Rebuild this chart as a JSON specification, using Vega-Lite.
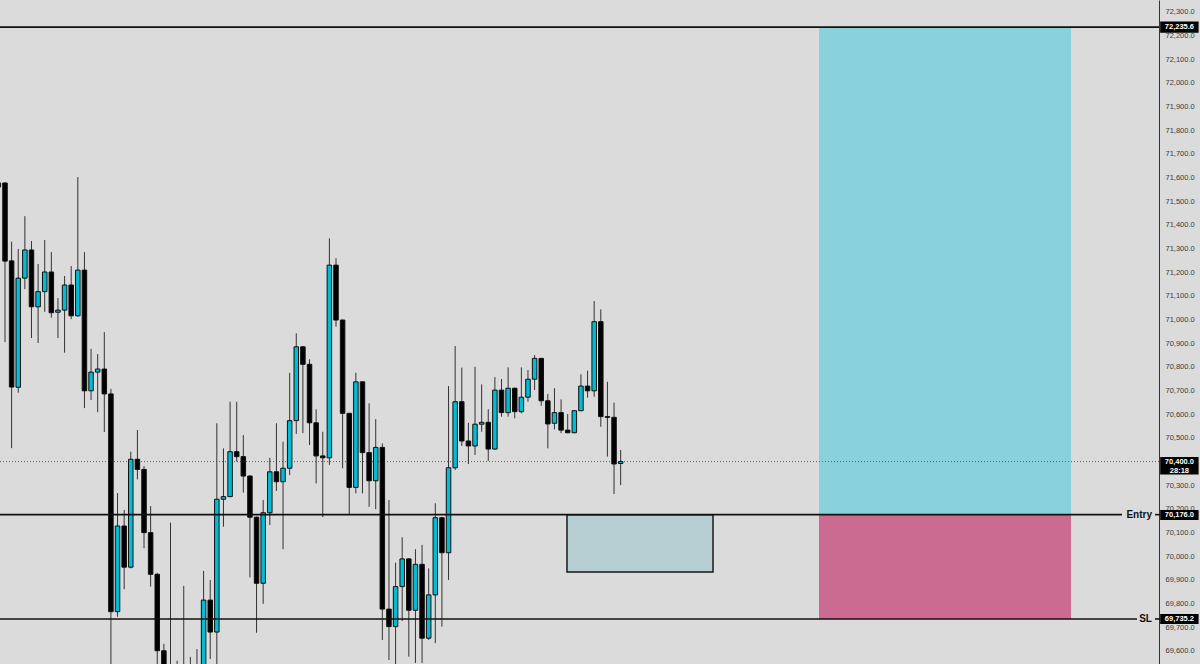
{
  "$schema": "https://vega.github.io/schema/vega-lite/v6.json",
  "width": 1159,
  "height": 664,
  "autosize": {"type": "none"},
  "padding": {"left": 0, "top": 0, "right": 41, "bottom": 0},
  "background": "#dbdbdb",
  "config": {
    "view": {"stroke": null, "fill": "#dbdbdb"},
    "font": "Liberation Sans",
    "scale": {"continuousPadding": 0},
    "axis": {"grid": false, "ticks": false, "tickSize": 0, "labelPadding": 6, "labelFont": "Liberation Sans", "labelFontSize": 7.5, "labelColor": "#3a3a3a", "domainColor": "#333333", "domainWidth": 1, "labelOverlap": false, "title": null}
  },
  "datasets": {
    "zones": [
      {"zone": "target", "x1": 124.96, "x2": 163.03, "p1": 70176, "p2": 72235.6},
      {"zone": "stop", "x1": 124.96, "x2": 163.03, "p1": 69735.2, "p2": 70176}
    ],
    "box": [
      {"x1": 86.89, "x2": 108.95, "p1": 69934, "p2": 70176}
    ],
    "levels": [
      {"name": "tp", "p": 72235.6, "x1": 1.2447, "x2": 176.32},
      {"name": "entry", "p": 70176, "x1": 1.2447, "x2": 170.73},
      {"name": "sl", "p": 69735.2, "x1": 1.2447, "x2": 173.0},
      {"name": "entry-dash", "p": 70176, "x1": 175.72, "x2": 176.5},
      {"name": "sl-dash", "p": 69735.2, "x1": 175.72, "x2": 176.5}
    ],
    "lastprice": [
      {"p": 70400, "x1": 1.2447, "x2": 176.32}
    ],
    "names": [
      {"label": "Entry", "p": 70176, "x": 175.26},
      {"label": "SL", "p": 69735.2, "x": 175.26}
    ],
    "tags": [
      {"p1": 72212, "p2": 72259},
      {"p1": 70345, "p2": 70419},
      {"p1": 70153, "p2": 70196},
      {"p1": 69714, "p2": 69756}
    ],
    "tagtext": [
      {"label": "72,235.6", "p": 72235.6},
      {"label": "70,400.0", "p": 70398},
      {"label": "28:18", "p": 70362},
      {"label": "70,176.0", "p": 70175},
      {"label": "69,735.2", "p": 69735.2}
    ],
    "candles": [
      {"i":1,"o":71560,"h":71585,"l":71550,"c":71577},
      {"i":2,"o":71577,"h":71580,"l":70905,"c":71247},
      {"i":3,"o":71248,"h":71329,"l":70457,"c":70715},
      {"i":4,"o":70714,"h":71298,"l":70691,"c":71175},
      {"i":5,"o":71175,"h":71437,"l":71129,"c":71294},
      {"i":6,"o":71294,"h":71332,"l":70922,"c":71054},
      {"i":7,"o":71054,"h":71235,"l":70901,"c":71118},
      {"i":8,"o":71118,"h":71336,"l":71033,"c":71201},
      {"i":9,"o":71201,"h":71285,"l":71008,"c":71029},
      {"i":10,"o":71031,"h":71091,"l":70922,"c":71040},
      {"i":11,"o":71040,"h":71184,"l":70860,"c":71146},
      {"i":12,"o":71146,"h":71226,"l":71002,"c":71016},
      {"i":13,"o":71016,"h":71602,"l":71012,"c":71209},
      {"i":14,"o":71209,"h":71285,"l":70626,"c":70699},
      {"i":15,"o":70699,"h":70876,"l":70660,"c":70778},
      {"i":16,"o":70778,"h":70854,"l":70609,"c":70791},
      {"i":17,"o":70791,"h":70947,"l":70525,"c":70686},
      {"i":18,"o":70686,"h":70707,"l":69500,"c":69766},
      {"i":19,"o":69766,"h":70267,"l":69745,"c":70128},
      {"i":20,"o":70128,"h":70196,"l":69861,"c":69954},
      {"i":21,"o":69954,"h":70442,"l":69949,"c":70410},
      {"i":22,"o":70410,"h":70533,"l":70325,"c":70367},
      {"i":23,"o":70367,"h":70381,"l":70034,"c":70100},
      {"i":24,"o":70100,"h":70212,"l":69872,"c":69924},
      {"i":25,"o":69924,"h":69930,"l":69520,"c":69601},
      {"i":26,"o":69601,"h":69630,"l":69350,"c":69393},
      {"i":27,"o":69393,"h":70142,"l":69300,"c":69450},
      {"i":28,"o":69450,"h":69559,"l":69320,"c":69380},
      {"i":29,"o":69380,"h":69875,"l":69350,"c":69470},
      {"i":30,"o":69470,"h":69575,"l":69380,"c":69420},
      {"i":31,"o":69420,"h":69608,"l":69400,"c":69500},
      {"i":32,"o":69500,"h":69938,"l":69480,"c":69815},
      {"i":33,"o":69815,"h":69900,"l":69566,"c":69680},
      {"i":34,"o":69680,"h":70562,"l":69520,"c":70241},
      {"i":35,"o":70241,"h":70456,"l":70125,"c":70252},
      {"i":36,"o":70252,"h":70653,"l":70250,"c":70442},
      {"i":37,"o":70442,"h":70653,"l":70400,"c":70421},
      {"i":38,"o":70421,"h":70512,"l":70269,"c":70339},
      {"i":39,"o":70339,"h":70342,"l":69911,"c":70165},
      {"i":40,"o":70165,"h":70168,"l":69677,"c":69886},
      {"i":41,"o":69886,"h":70238,"l":69799,"c":70184},
      {"i":42,"o":70184,"h":70416,"l":70132,"c":70357},
      {"i":43,"o":70357,"h":70562,"l":70276,"c":70315},
      {"i":44,"o":70315,"h":70484,"l":70030,"c":70372},
      {"i":45,"o":70372,"h":70775,"l":70343,"c":70573},
      {"i":46,"o":70573,"h":70942,"l":70517,"c":70885},
      {"i":47,"o":70885,"h":70888,"l":70520,"c":70811},
      {"i":48,"o":70811,"h":70832,"l":70470,"c":70564},
      {"i":49,"o":70564,"h":70621,"l":70308,"c":70424},
      {"i":50,"o":70424,"h":70526,"l":70165,"c":70416},
      {"i":51,"o":70416,"h":71343,"l":70386,"c":71230},
      {"i":52,"o":71230,"h":71259,"l":70970,"c":70998},
      {"i":53,"o":70998,"h":71000,"l":70372,"c":70604},
      {"i":54,"o":70604,"h":70606,"l":70174,"c":70291},
      {"i":55,"o":70291,"h":70775,"l":70266,"c":70737},
      {"i":56,"o":70737,"h":70740,"l":70266,"c":70438},
      {"i":57,"o":70438,"h":70646,"l":70209,"c":70319},
      {"i":58,"o":70319,"h":70579,"l":70199,"c":70460},
      {"i":59,"o":70460,"h":70477,"l":69646,"c":69777},
      {"i":60,"o":69777,"h":70238,"l":69562,"c":69703},
      {"i":61,"o":69703,"h":69973,"l":69520,"c":69872},
      {"i":62,"o":69872,"h":70080,"l":69727,"c":69989},
      {"i":63,"o":69989,"h":69992,"l":69576,"c":69772},
      {"i":64,"o":69772,"h":70030,"l":69549,"c":69966},
      {"i":65,"o":69966,"h":70048,"l":69549,"c":69654},
      {"i":66,"o":69654,"h":69949,"l":69646,"c":69837},
      {"i":67,"o":69837,"h":70224,"l":69633,"c":70163},
      {"i":68,"o":70163,"h":70165,"l":69703,"c":70015},
      {"i":69,"o":70015,"h":70719,"l":69900,"c":70374},
      {"i":70,"o":70374,"h":70888,"l":70365,"c":70653},
      {"i":71,"o":70653,"h":70797,"l":70466,"c":70487},
      {"i":72,"o":70487,"h":70564,"l":70390,"c":70466},
      {"i":73,"o":70466,"h":70801,"l":70428,"c":70558},
      {"i":74,"o":70558,"h":70726,"l":70526,"c":70566},
      {"i":75,"o":70566,"h":70621,"l":70403,"c":70453},
      {"i":76,"o":70453,"h":70757,"l":70449,"c":70702},
      {"i":77,"o":70702,"h":70749,"l":70590,"c":70607},
      {"i":78,"o":70607,"h":70798,"l":70590,"c":70710},
      {"i":79,"o":70710,"h":70712,"l":70583,"c":70611},
      {"i":80,"o":70611,"h":70798,"l":70604,"c":70672},
      {"i":81,"o":70672,"h":70787,"l":70653,"c":70748},
      {"i":82,"o":70748,"h":70850,"l":70702,"c":70836},
      {"i":83,"o":70836,"h":70838,"l":70636,"c":70657},
      {"i":84,"o":70657,"h":70686,"l":70456,"c":70559},
      {"i":85,"o":70562,"h":70710,"l":70536,"c":70607},
      {"i":86,"o":70607,"h":70663,"l":70520,"c":70533},
      {"i":87,"o":70533,"h":70601,"l":70520,"c":70522},
      {"i":88,"o":70522,"h":70617,"l":70520,"c":70615},
      {"i":89,"o":70615,"h":70769,"l":70613,"c":70719},
      {"i":90,"o":70719,"h":70784,"l":70670,"c":70699},
      {"i":91,"o":70699,"h":71078,"l":70674,"c":70991},
      {"i":92,"o":70991,"h":71043,"l":70547,"c":70590},
      {"i":93,"o":70590,"h":70737,"l":70421,"c":70587},
      {"i":94,"o":70587,"h":70649,"l":70263,"c":70390},
      {"i":95,"o":70392,"h":70449,"l":70301,"c":70400}
    ]
  },
  "layer": [
    {
      "data": {"name": "zones"},
      "mark": {"type": "rect", "clip": true},
      "encoding": {
        "x": {"field": "x1", "type": "quantitative", "scale": {"domain": [1.2447, 176.32], "nice": false, "zero": false, "padding": 0}, "axis": null},
        "x2": {"field": "x2"},
        "y": {"field": "p1", "type": "quantitative", "title": null, "scale": {"domain": [69545, 72350], "nice": false, "zero": false},
          "axis": {"orient": "right", "format": ",.1f", "values": [69600,69700,69800,69900,70000,70100,70200,70300,70400,70500,70600,70700,70800,70900,71000,71100,71200,71300,71400,71500,71600,71700,71800,71900,72000,72100,72200,72300]}},
        "y2": {"field": "p2"},
        "color": {"field": "zone", "type": "nominal", "scale": {"domain": ["target", "stop"], "range": ["#89d1db", "#cc6b92"]}, "legend": null}
      }
    },
    {
      "data": {"name": "box"},
      "mark": {"type": "rect", "clip": true, "fill": "#b7cfd3", "stroke": "#1a1a1a", "strokeWidth": 1.5},
      "encoding": {
        "x": {"field": "x1", "type": "quantitative", "scale": {"domain": [1.2447, 176.32], "nice": false, "zero": false, "padding": 0}, "axis": null},
        "x2": {"field": "x2"},
        "y": {"field": "p1", "type": "quantitative", "title": null, "scale": {"domain": [69545, 72350], "nice": false, "zero": false},
          "axis": {"orient": "right", "format": ",.1f", "values": [69600,69700,69800,69900,70000,70100,70200,70300,70400,70500,70600,70700,70800,70900,71000,71100,71200,71300,71400,71500,71600,71700,71800,71900,72000,72100,72200,72300]}},
        "y2": {"field": "p2"}
      }
    },
    {
      "data": {"name": "lastprice"},
      "mark": {"type": "rule", "clip": true, "color": "#6b5a5a", "strokeWidth": 1, "strokeDash": [1, 2]},
      "encoding": {
        "x": {"field": "x1", "type": "quantitative", "scale": {"domain": [1.2447, 176.32], "nice": false, "zero": false, "padding": 0}, "axis": null},
        "x2": {"field": "x2"},
        "y": {"field": "p", "type": "quantitative", "title": null, "scale": {"domain": [69545, 72350], "nice": false, "zero": false},
          "axis": {"orient": "right", "format": ",.1f", "values": [69600,69700,69800,69900,70000,70100,70200,70300,70400,70500,70600,70700,70800,70900,71000,71100,71200,71300,71400,71500,71600,71700,71800,71900,72000,72100,72200,72300]}}
      }
    },
    {
      "data": {"name": "candles"},
      "mark": {"type": "rule", "clip": true, "color": "#333333", "strokeWidth": 1},
      "encoding": {
        "x": {"field": "i", "type": "quantitative", "scale": {"domain": [1.2447, 176.32], "nice": false, "zero": false, "padding": 0}, "axis": null},
        "y": {"field": "l", "type": "quantitative", "title": null, "scale": {"domain": [69545, 72350], "nice": false, "zero": false},
          "axis": {"orient": "right", "format": ",.1f", "values": [69600,69700,69800,69900,70000,70100,70200,70300,70400,70500,70600,70700,70800,70900,71000,71100,71200,71300,71400,71500,71600,71700,71800,71900,72000,72100,72200,72300]}},
        "y2": {"field": "h"}
      }
    },
    {
      "data": {"name": "candles"},
      "mark": {"type": "bar", "clip": true, "width": 4.5, "stroke": "#111111", "strokeWidth": 1, "orient": "vertical"},
      "encoding": {
        "x": {"field": "i", "type": "quantitative", "scale": {"domain": [1.2447, 176.32], "nice": false, "zero": false, "padding": 0}, "axis": null},
        "y": {"field": "o", "type": "quantitative", "title": null, "scale": {"domain": [69545, 72350], "nice": false, "zero": false},
          "axis": {"orient": "right", "format": ",.1f", "values": [69600,69700,69800,69900,70000,70100,70200,70300,70400,70500,70600,70700,70800,70900,71000,71100,71200,71300,71400,71500,71600,71700,71800,71900,72000,72100,72200,72300]}},
        "y2": {"field": "c"},
        "color": {"condition": {"test": "datum.c >= datum.o", "value": "#00bcd4"}, "value": "#000000"}
      }
    },
    {
      "data": {"name": "levels"},
      "mark": {"type": "rule", "clip": false, "color": "#111111", "strokeWidth": 1.6},
      "encoding": {
        "x": {"field": "x1", "type": "quantitative", "scale": {"domain": [1.2447, 176.32], "nice": false, "zero": false, "padding": 0}, "axis": null},
        "x2": {"field": "x2"},
        "y": {"field": "p", "type": "quantitative", "title": null, "scale": {"domain": [69545, 72350], "nice": false, "zero": false},
          "axis": {"orient": "right", "format": ",.1f", "values": [69600,69700,69800,69900,70000,70100,70200,70300,70400,70500,70600,70700,70800,70900,71000,71100,71200,71300,71400,71500,71600,71700,71800,71900,72000,72100,72200,72300]}}
      }
    },
    {
      "data": {"name": "names"},
      "mark": {"type": "text", "align": "right", "baseline": "middle", "font": "Liberation Sans", "fontSize": 10, "fontWeight": "bold", "color": "#111111"},
      "encoding": {
        "x": {"field": "x", "type": "quantitative", "scale": {"domain": [1.2447, 176.32], "nice": false, "zero": false, "padding": 0}, "axis": null},
        "y": {"field": "p", "type": "quantitative", "title": null, "scale": {"domain": [69545, 72350], "nice": false, "zero": false},
          "axis": {"orient": "right", "format": ",.1f", "values": [69600,69700,69800,69900,70000,70100,70200,70300,70400,70500,70600,70700,70800,70900,71000,71100,71200,71300,71400,71500,71600,71700,71800,71900,72000,72100,72200,72300]}},
        "text": {"field": "label"}
      }
    },
    {
      "data": {"name": "tags"},
      "mark": {"type": "rect", "clip": false, "color": "#000000"},
      "encoding": {
        "x": {"datum": 176.5, "type": "quantitative", "scale": {"domain": [1.2447, 176.32], "nice": false, "zero": false, "padding": 0}, "axis": null},
        "x2": {"datum": 182.3},
        "y": {"field": "p1", "type": "quantitative", "title": null, "scale": {"domain": [69545, 72350], "nice": false, "zero": false},
          "axis": {"orient": "right", "format": ",.1f", "values": [69600,69700,69800,69900,70000,70100,70200,70300,70400,70500,70600,70700,70800,70900,71000,71100,71200,71300,71400,71500,71600,71700,71800,71900,72000,72100,72200,72300]}},
        "y2": {"field": "p2"}
      }
    },
    {
      "data": {"name": "tagtext"},
      "mark": {"type": "text", "clip": false, "align": "center", "baseline": "middle", "font": "Liberation Sans", "fontSize": 7.5, "fontWeight": "bold", "color": "#ffffff"},
      "encoding": {
        "x": {"datum": 179.4, "type": "quantitative", "scale": {"domain": [1.2447, 176.32], "nice": false, "zero": false, "padding": 0}, "axis": null},
        "y": {"field": "p", "type": "quantitative", "title": null, "scale": {"domain": [69545, 72350], "nice": false, "zero": false},
          "axis": {"orient": "right", "format": ",.1f", "values": [69600,69700,69800,69900,70000,70100,70200,70300,70400,70500,70600,70700,70800,70900,71000,71100,71200,71300,71400,71500,71600,71700,71800,71900,72000,72100,72200,72300]}},
        "text": {"field": "label"}
      }
    }
  ]
}
